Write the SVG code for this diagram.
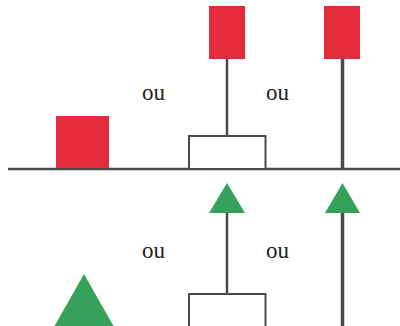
<svg xmlns="http://www.w3.org/2000/svg" width="400" height="326" viewBox="0 0 400 326">
<style>
.red{fill:#e52b3b}
.green{fill:#35a15b}
.ln{stroke:#4a4a4a;fill:none}
.box{fill:#fff;stroke:#4a4a4a;stroke-width:2}
.lbl{font-family:"Liberation Serif","DejaVu Serif",serif;font-size:23px;fill:#222}
</style>
<rect width="400" height="326" fill="#fff"/>
<g id="connectors">
<line class="ln" x1="8" y1="169" x2="400" y2="169" stroke-width="2.5"/>
<line class="ln" x1="227" y1="58" x2="227" y2="136" stroke-width="2.5"/>
<line class="ln" x1="342.5" y1="58" x2="342.5" y2="169" stroke-width="3.5"/>
<line class="ln" x1="227" y1="212" x2="227" y2="294" stroke-width="2.5"/>
<line class="ln" x1="342.5" y1="212" x2="342.5" y2="326" stroke-width="3.5"/>
</g>
<g id="red-left"><rect class="red" x="56" y="116" width="53" height="52"/></g>
<g id="red-mid"><rect class="red" x="209" y="6" width="36" height="53"/></g>
<g id="red-right"><rect class="red" x="324" y="6" width="36" height="53"/></g>
<g id="box-top"><rect class="box" x="189" y="136" width="76.5" height="33"/></g>
<g id="box-bottom"><rect class="box" x="189" y="294" width="76.5" height="40"/></g>
<g id="tri-mid"><polygon class="green" points="227,183 245,213 209,213"/></g>
<g id="tri-right"><polygon class="green" points="342.5,183 360,213 325,213"/></g>
<g id="tri-big"><polygon class="green" points="84,274 113.5,326 54.5,326"/></g>
<g id="labels">
<text class="lbl" x="142" y="100">ou</text>
<text class="lbl" x="266" y="100">ou</text>
<text class="lbl" x="142" y="258">ou</text>
<text class="lbl" x="266" y="258">ou</text>
</g>
</svg>
